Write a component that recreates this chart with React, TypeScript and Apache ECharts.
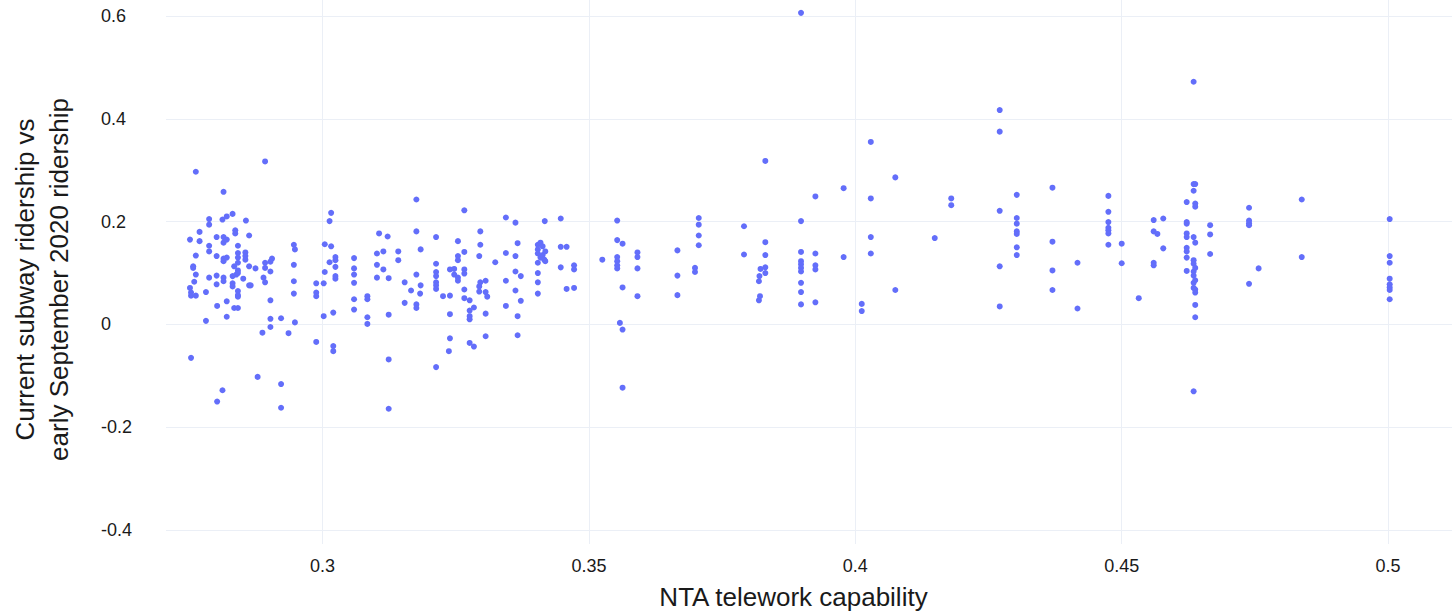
import { useEffect, useRef } from "react";
import * as echarts from "echarts";

// NTA telework capability (x) and, for each level, the subway ridership ratios observed there (y)
const teleworkLevels = [
  0.2751, 0.2753, 0.2757, 0.2759, 0.2762, 0.2769, 0.2781, 0.2787, 0.2801, 0.2802,
  0.2812, 0.2814, 0.282, 0.2831, 0.2834, 0.2836, 0.2838, 0.2841, 0.2851, 0.2855,
  0.2856, 0.2862, 0.2865, 0.2874, 0.2878, 0.2887, 0.2889, 0.2892, 0.2902, 0.2905,
  0.2922, 0.2936, 0.2946, 0.2948, 0.2988, 0.3002, 0.3004, 0.3013, 0.3016, 0.302,
  0.3024, 0.3059, 0.3084, 0.3102, 0.3106, 0.3114, 0.3122, 0.3124, 0.3142, 0.3154,
  0.3166, 0.3176, 0.3183, 0.3184, 0.3213, 0.3226, 0.3237, 0.3239, 0.3247, 0.3254,
  0.3266, 0.3276, 0.3284, 0.3294, 0.3296, 0.3306, 0.3309, 0.3324, 0.3344, 0.3362,
  0.3366, 0.3372, 0.3404, 0.3409, 0.3413, 0.3416, 0.3417, 0.3418, 0.3447, 0.3458,
  0.3472, 0.3525, 0.3553, 0.3558, 0.3563, 0.3591, 0.3666, 0.3699, 0.3706, 0.3791,
  0.3819, 0.382, 0.3821, 0.3822, 0.3831, 0.3898, 0.3925, 0.3978, 0.4012, 0.4029,
  0.4075, 0.4149, 0.418, 0.4271, 0.4303, 0.437, 0.4417, 0.4475, 0.45, 0.4532,
  0.456, 0.4567, 0.4578, 0.4622, 0.4635, 0.4638, 0.4666, 0.4739, 0.4757, 0.4838,
  0.5003,
];

const ridershipByLevel = [
  [0.165, 0.071], [0.062, 0.056, -0.065], [0.113, 0.11], [0.083], [0.297, 0.134, 0.097, 0.056],
  [0.18, 0.162], [0.063, 0.007], [0.205, 0.194, 0.153, 0.142, 0.091], [0.17, 0.133, 0.095, 0.078], [0.036, -0.15],
  [0.204, -0.128], [0.258, 0.17, 0.159, 0.128, 0.123, 0.091, 0.084], [0.21, 0.165, 0.13, 0.045, 0.015], [0.215, 0.094, 0.08, 0.074], [0.113, 0.032],
  [0.183, 0.177], [0.097], [0.153, 0.139, 0.13, 0.12, 0.105, 0.1, 0.065, 0.057, 0.054, 0.032], [0.089], [0.14, 0.133, 0.126],
  [0.202], [0.173, 0.113, 0.076], [0.076], [0.109], [-0.102],
  [-0.016], [0.091], [0.317, 0.12, 0.11, 0.082], [0.122, 0.103, 0.047, 0.011, -0.005], [0.128],
  [0.012, -0.116, -0.162], [-0.017], [0.155, 0.116, 0.084, 0.06], [0.146, 0.004], [0.08, 0.062, 0.055, -0.034],
  [0.08, 0.016], [0.156, 0.102], [0.201, 0.121], [0.217, 0.152], [0.023, -0.042, -0.052],
  [0.131, 0.125, 0.112, 0.094, 0.089], [0.129, 0.109, 0.097, 0.081, 0.049, 0.029], [0.055, 0.049, 0.014, 0.001], [0.138, 0.116, 0.091], [0.177],
  [0.142, 0.107], [0.171], [0.09, 0.019, -0.068, -0.164], [0.142, 0.125], [0.082, 0.042],
  [0.066], [0.243, 0.181, 0.097, 0.039, 0.032], [0.06], [0.146, 0.076], [0.17, 0.118, 0.102, 0.094, 0.082, 0.076, 0.069, -0.083],
  [0.055], [-0.052], [0.107, 0.056, 0.02, -0.027], [0.108, 0.097], [0.162, 0.133, 0.125, 0.091, 0.085],
  [0.222, 0.141, 0.107, 0.099, 0.068, 0.051], [0.047, 0.027, 0.016, 0.01, -0.036], [0.033, -0.043], [0.133, 0.074, 0.064], [0.181, 0.155, 0.082],
  [0.085, 0.063, 0.021, -0.023], [0.054], [0.121], [0.208, 0.139, 0.085, 0.036], [0.198, 0.133, 0.103, 0.066],
  [0.158, 0.016, -0.021], [0.094, 0.046], [0.155, 0.146, 0.138, 0.12, 0.1, 0.082, 0.06], [0.159, 0.13], [0.152, 0.135],
  [0.126], [0.201], [0.142, 0.123], [0.206, 0.151, 0.111], [0.151, 0.069],
  [0.115, 0.107, 0.071], [0.126], [0.202, 0.164, 0.131, 0.123, 0.115, 0.109], [0.003], [0.157, 0.072, -0.01, -0.123],
  [0.14, 0.131, 0.109, 0.055], [0.144, 0.095, 0.057], [0.11, 0.102], [0.207, 0.194, 0.173, 0.154], [0.191, 0.136],
  [0.084, 0.047], [0.094], [0.055], [0.108], [0.318, 0.16, 0.135, 0.111, 0.1],
  [0.606, 0.201, 0.141, 0.123, 0.117, 0.11, 0.103, 0.081, 0.063, 0.039], [0.249, 0.138, 0.115, 0.107, 0.043], [0.265, 0.131], [0.04, 0.026], [0.355, 0.245, 0.17, 0.138],
  [0.286, 0.067], [0.168], [0.245, 0.232], [0.417, 0.375, 0.221, 0.113, 0.035], [0.252, 0.207, 0.196, 0.181, 0.176, 0.15, 0.135],
  [0.266, 0.161, 0.105, 0.067], [0.12, 0.031], [0.25, 0.219, 0.199, 0.188, 0.183, 0.177, 0.155], [0.157, 0.119], [0.051],
  [0.203, 0.181, 0.12, 0.115], [0.176], [0.206, 0.148], [0.238, 0.199, 0.196, 0.177, 0.17, 0.149, 0.142, 0.13, 0.104],
  [0.472, 0.273, 0.26, 0.17, 0.125, 0.118, 0.103, 0.095, 0.081, 0.071, -0.13],
  [0.273, 0.235, 0.229, 0.159, 0.11, 0.086, 0.068, 0.062, 0.038, 0.014],
  [0.193, 0.175, 0.137], [0.227, 0.202, 0.197, 0.193, 0.079], [0.109], [0.243, 0.131],
  [0.205, 0.133, 0.12, 0.089, 0.078, 0.072, 0.067, 0.049],
];

const xTicks = [0.3, 0.35, 0.4, 0.45, 0.5];
const yTicks = [-0.4, -0.2, 0, 0.2, 0.4, 0.6];

const FONT = '"Liberation Sans", Arial, Helvetica, sans-serif';
const TEXT = "#1a1a1a";
const GRID = "#ebeff6";
const MARKER = "#636efa";

const fmt = (v: number) => String(parseFloat(Number(v).toFixed(2)));

export default function App() {
  const ref = useRef<HTMLDivElement>(null);

  useEffect(() => {
    document.body.style.margin = "0";
    const chart = echarts.init(ref.current!, null, { renderer: "svg" });

    const points = teleworkLevels.flatMap((x, i) =>
      ridershipByLevel[i].map((y) => [x, y])
    );

    chart.setOption({
      animation: false,
      backgroundColor: "#ffffff",
      textStyle: { fontFamily: FONT },
      grid: { left: 165, right: 0, top: 0, bottom: 70 },
      xAxis: {
        type: "value",
        min: 0.2706,
        max: 0.512,
        axisLine: { show: false },
        axisTick: { show: false, customValues: xTicks },
        axisLabel: {
          customValues: xTicks,
          formatter: fmt,
          fontSize: 18,
          color: TEXT,
          fontFamily: FONT,
          margin: 13,
        },
        splitLine: { show: true, lineStyle: { color: GRID, width: 1 } },
        name: "NTA telework capability",
        nameLocation: "middle",
        nameGap: 40,
        nameTextStyle: {
          fontSize: 26,
          color: TEXT,
          fontFamily: FONT,
          padding: [0, 31, 0, 0],
        },
      },
      yAxis: {
        type: "value",
        min: -0.427,
        max: 0.631,
        axisLine: { show: false },
        axisTick: { show: false, customValues: yTicks },
        axisLabel: {
          customValues: yTicks,
          formatter: fmt,
          fontSize: 18,
          color: TEXT,
          fontFamily: FONT,
          align: "left",
          margin: 65,
        },
        splitLine: { show: true, lineStyle: { color: GRID, width: 1 } },
        name: "Current subway ridership vs\nearly September 2020 ridership",
        nameLocation: "middle",
        nameRotate: 90,
        nameGap: 90,
        nameTextStyle: {
          fontSize: 26,
          lineHeight: 34,
          color: TEXT,
          fontFamily: FONT,
          padding: [0, 15, 0, 0],
        },
      },
      series: [
        {
          type: "scatter",
          data: points,
          symbol: "circle",
          symbolSize: 6,
          clip: false,
          itemStyle: { color: MARKER, opacity: 1 },
        },
      ],
    });

    return () => chart.dispose();
  }, []);

  return <div ref={ref} style={{ width: 1452, height: 615 }} />;
}
